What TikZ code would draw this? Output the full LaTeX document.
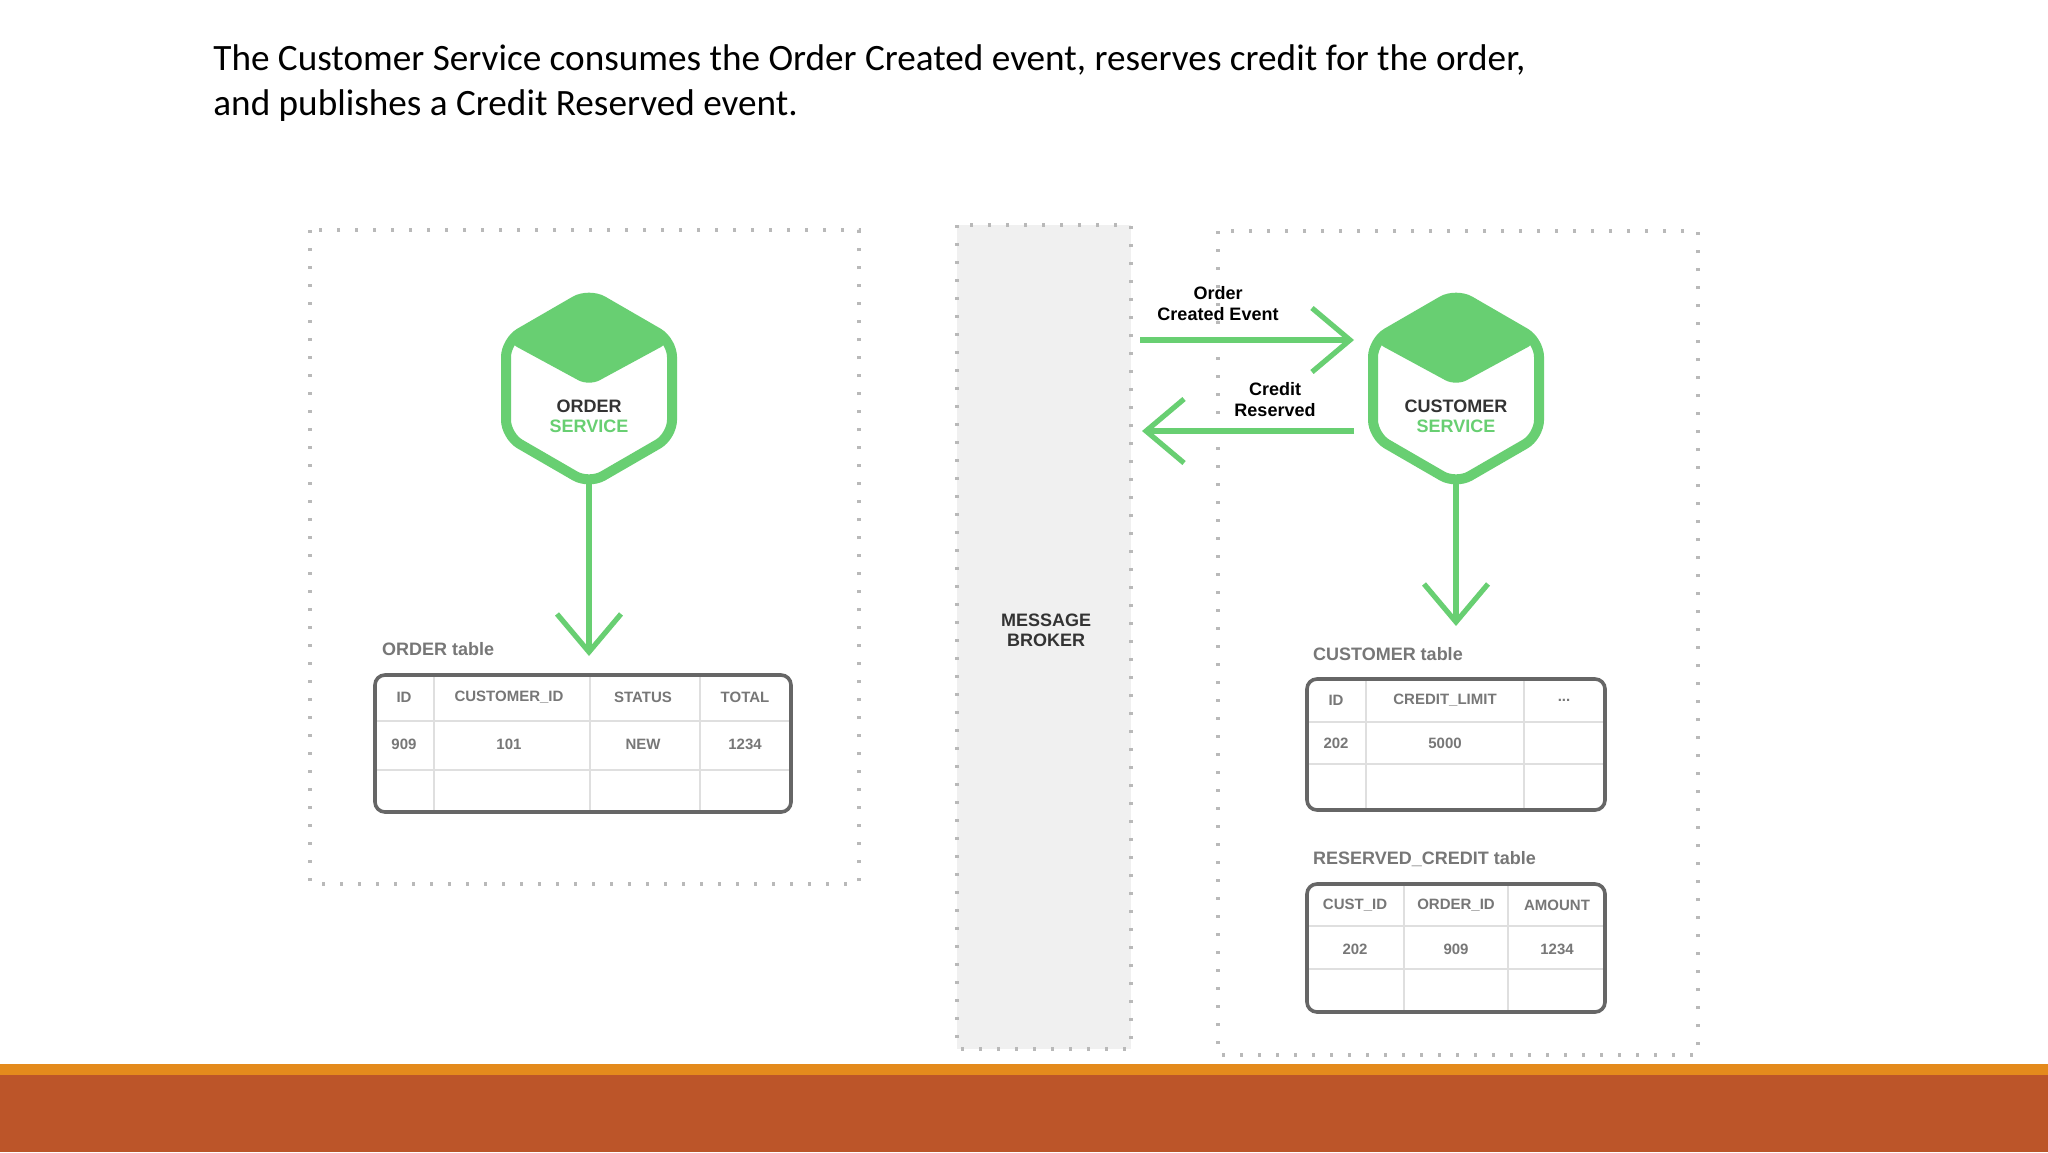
\documentclass[tikz,border=0pt]{standalone}
\usepackage{fontspec}
\setmainfont{Carlito}
\newfontfamily\dsans{Liberation Sans}
\usetikzlibrary{arrows.meta}
\definecolor{gr}{HTML}{68CF72}
\definecolor{tx}{HTML}{333333}
\definecolor{tg}{HTML}{777777}
\definecolor{orng}{HTML}{E48A1C}
\definecolor{rust}{HTML}{BC5529}
\begin{document}
\begin{tikzpicture}[x=0.5pt,y=-0.5pt,
  dots/.style={draw=gray!55,line width=1.6pt,dash pattern=on 1.6pt off 7.4pt},
  garrow/.style={draw=gr,line width=2.6pt,-{Straight Barb[length=19pt,width=32pt,line width=2.6pt]}},
  hexlbl/.style={font=\dsans\bfseries\fontsize{9}{10}\selectfont,align=center,text=tx},
  lbl/.style={font=\dsans\bfseries\fontsize{9}{10}\selectfont,text=tg,anchor=west},
  evt/.style={font=\dsans\bfseries\fontsize{9}{10.5}\selectfont,align=center,text=black},
  cell/.style={font=\dsans\bfseries\fontsize{7.5}{8}\selectfont,text=tg},
  tbl/.style={draw=gray!80!black,line width=1.8pt,rounded corners=5pt},
  grid/.style={draw=gray!25,line width=0.8pt}]
\useasboundingbox (0,0) rectangle (2048,1152);
\fill[white] (0,0) rectangle (2048,1152);
% title
\node[anchor=west,inner sep=0pt,font=\fontsize{18.6}{22}\selectfont,text=black] (title1) at (213,60) {The Customer Service consumes the Order Created event, reserves credit for the order,};
\node[anchor=west,inner sep=0pt,font=\fontsize{18.6}{22}\selectfont,text=black] (title2) at (213,106) {and publishes a Credit Reserved event.};
% boxes
\draw[dots] (310,230) rectangle (859,884);
\fill[gray!12] (957,225) rectangle (1131,1049);
\draw[dots] (957,225) rectangle (1131,1049);
\draw[dots] (1218,231) rectangle (1698,1055);
\node[hexlbl] (broker) at (1046,630) {MESSAGE\\BROKER};
% hexagons
\foreach \cx/\nm/\t in {589/os/ORDER,1456/cs/CUSTOMER}{
  \fill[gr,rounded corners=6pt] (\cx,293) -- (\cx+83,341) -- (\cx,386) -- (\cx-83,341) -- cycle;
  \draw[gr,line width=5pt,rounded corners=8pt] (\cx,293) -- (\cx+83,341) -- (\cx+83,436) -- (\cx,484) -- (\cx-83,436) -- (\cx-83,341) -- cycle;
  \node[hexlbl] (\nm) at (\cx,416) {\t\\\textcolor{gr}{SERVICE}};
  \coordinate (\nm b) at (\cx,484);
}
\coordinate (ot) at (589,656);
\coordinate (ct) at (1456,626);
\draw[garrow] (osb) -- (ot);
\draw[garrow] (csb) -- (ct);
% events
\coordinate (e1a) at (1140,340); \coordinate (e1b) at (1354,340);
\coordinate (e2a) at (1354,431); \coordinate (e2b) at (1142,431);
\draw[garrow] (e1a) -- (e1b);
\draw[garrow] (e2a) -- (e2b);
\node[evt] (ev1) at (1218,304) {Order\\Created Event};
\node[evt] (ev2) at (1275,400) {Credit\\Reserved};
% ORDER table
\node[lbl] (l1) at (375,649) {ORDER table};
\draw[grid] (434,675) -- (434,812) (590,675) -- (590,812) (700,675) -- (700,812) (375,721) -- (791,721) (375,770) -- (791,770);
\draw[tbl] (375,675) rectangle (791,812);
\foreach \x/\a/\b in {404/ID/909,509/CUSTOMER\_ID/101,643/STATUS/NEW,745/TOTAL/1234}{
  \node[cell] at (\x,697) {\a}; \node[cell] at (\x,744) {\b};}
% CUSTOMER table
\node[lbl] (l2) at (1306,654) {CUSTOMER table};
\draw[grid] (1366,679) -- (1366,810) (1524,679) -- (1524,810) (1307,722) -- (1605,722) (1307,764) -- (1605,764);
\draw[tbl] (1307,679) rectangle (1605,810);
\node[cell] at (1336,700) {ID}; \node[cell] at (1445,700) {CREDIT\_LIMIT}; \node[cell] at (1564,700) {...};
\node[cell] at (1336,743) {202}; \node[cell] at (1445,743) {5000};
% RESERVED table
\node[lbl] (l3) at (1306,859) {RESERVED\_CREDIT table};
\draw[grid] (1404,884) -- (1404,1012) (1508,884) -- (1508,1012) (1307,926) -- (1605,926) (1307,969) -- (1605,969);
\draw[tbl] (1307,884) rectangle (1605,1012);
\foreach \x/\a/\b in {1355/CUST\_ID/202,1456/ORDER\_ID/909,1557/AMOUNT/1234}{
  \node[cell] at (\x,905) {\a}; \node[cell] at (\x,949) {\b};}
% bottom bars
\fill[orng] (0,1064) rectangle (2048,1075);
\fill[rust] (0,1075) rectangle (2048,1152);
\end{tikzpicture}
\end{document}
